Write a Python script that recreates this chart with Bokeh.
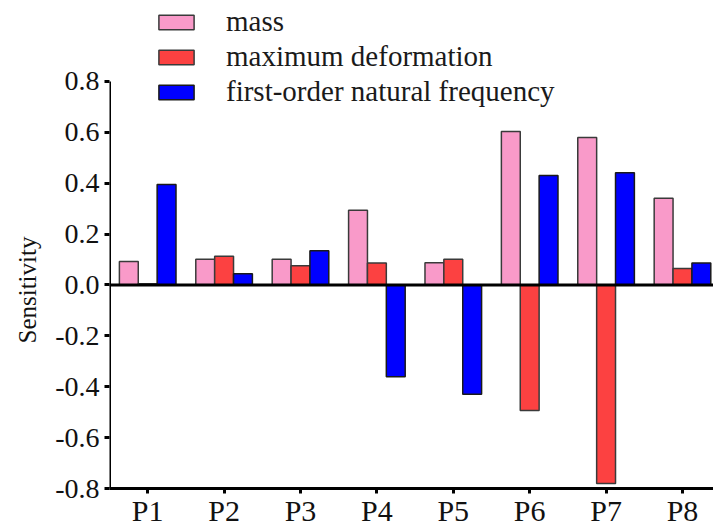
from bokeh.plotting import figure
from bokeh.models import ColumnDataSource, Range1d, FixedTicker, Span, Legend, LegendItem, Title
from bokeh.transform import dodge
from bokeh.embed import file_html
from bokeh.resources import INLINE

categories = ["P1", "P2", "P3", "P4", "P5", "P6", "P7", "P8"]
mass = [0.092, 0.101, 0.101, 0.294, 0.087, 0.603, 0.580, 0.341]
max_deformation = [0.005, 0.113, 0.075, 0.086, 0.101, -0.493, -0.780, 0.065]
natural_frequency = [0.395, 0.044, 0.134, -0.361, -0.430, 0.430, 0.441, 0.086]
y_ticks = [-0.8, -0.6, -0.4, -0.2, 0.0, 0.2, 0.4, 0.6, 0.8]

positions = list(range(1, len(categories) + 1))
src = ColumnDataSource(dict(x=positions, mass=mass, deform=max_deformation, freq=natural_frequency))

FONT = "Liberation Serif"
BW = 0.247
X0 = 0.5

p = figure(width=713, height=529, output_backend="svg", toolbar_location=None,
           x_range=Range1d(X0, 8.406), y_range=Range1d(y_ticks[0], 1.118),
           min_border_left=109, min_border_right=0, min_border_top=0, min_border_bottom=41)
p.outline_line_color = None
p.xgrid.visible = False
p.ygrid.visible = False
p.background_fill_color = "white"
p.border_fill_color = "white"

r1 = p.vbar(x=dodge("x", -BW, range=p.x_range), top="mass", width=BW, source=src,
            fill_color="#F99AC9", line_color="#3a3a3a", line_width=1.5)
r2 = p.vbar(x=dodge("x", 0, range=p.x_range), top="deform", width=BW, source=src,
            fill_color="#FC4141", line_color="#3a3a3a", line_width=1.5)
r3 = p.vbar(x=dodge("x", BW, range=p.x_range), top="freq", width=BW, source=src,
            fill_color="#0000FF", line_color="#1a1a1a", line_width=1.5)

p.add_layout(Span(location=0, dimension="width", line_color="black", line_width=3))

# y axis line spans only the tick range (drawn as a segment at the left edge)
p.segment(x0=[X0], y0=[y_ticks[0]], x1=[X0], y1=[y_ticks[-1]], line_color="black", line_width=3)

# axes
p.xaxis.ticker = FixedTicker(ticks=positions)
p.xaxis.major_label_overrides = {pos: c for pos, c in zip(positions, categories)}
p.yaxis.ticker = FixedTicker(ticks=y_ticks)
p.yaxis.major_label_overrides = {t: f"{t:.1f}" for t in y_ticks}
for ax in (p.xaxis, p.yaxis):
    ax.major_tick_line_width = 3
    ax.major_tick_in = 0
    ax.major_tick_out = 5
    ax.minor_tick_line_color = None
    ax.major_label_text_font = FONT
    ax.major_label_text_color = "#111111"
p.xaxis.axis_line_width = 3
p.xaxis.axis_line_color = "black"
p.yaxis.axis_line_color = None
p.xaxis.major_label_text_font_size = "30px"
p.yaxis.major_label_text_font_size = "28px"
p.xaxis.major_label_standoff = 0
p.yaxis.major_label_standoff = 5

# y-axis title, placed along the tick range rather than the whole frame
ytitle = Title(text="Sensitivity", align="left", offset=145, standoff=23,
               text_font=FONT, text_font_size="25px", text_font_style="normal",
               text_color="#111111")
p.add_layout(ytitle, "left")

legend = Legend(items=[LegendItem(label="mass", renderers=[r1]),
                       LegendItem(label="maximum deformation", renderers=[r2]),
                       LegendItem(label="first-order natural frequency", renderers=[r3])],
                location=(45, 380))
legend.border_line_color = None
legend.background_fill_alpha = 0
legend.padding = 0
legend.margin = 0
legend.glyph_width = 44
legend.glyph_height = 18
legend.label_standoff = 28
legend.spacing = 2
legend.label_text_font = FONT
legend.label_text_font_size = "29px"
legend.label_text_color = "#1a1a1a"
p.add_layout(legend, "center")

open("out.html", "w").write(file_html(p, INLINE))
